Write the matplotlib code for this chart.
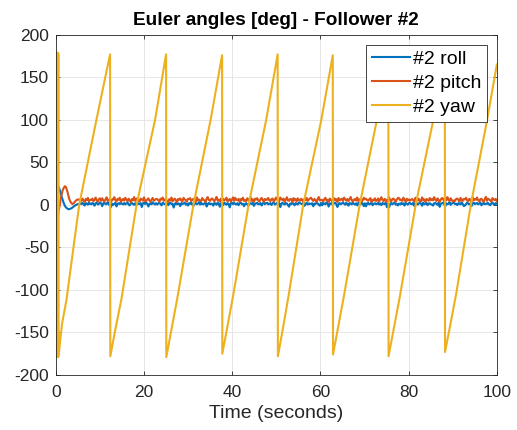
import numpy as np
import matplotlib
matplotlib.use('Agg')
import matplotlib.pyplot as plt

plt.rcParams['font.family'] = ['Liberation Sans', 'DejaVu Sans']
plt.rcParams['axes.unicode_minus'] = False

# attitude of follower #2 (deg), sampled evenly over 0.3 .. 100 s
roll = [23, 22, 19, 15, 10, 6, 2, -1, -3, -4, -5, -5, -4.5, -4, -3, -2, -1, 0, 0.5, 1, 1.2,
        1.8, 0.9, 2.4, 1.2, -0.8, 2.1, 1.5, 0.3, 2.8, 1.1,
        0.8, 2.3, 1.4, -0.9, 1.9, 2.6, 0.5, 1.2, 3.0, 1.7,
        -1.5, 1.9, 2.6, 0.7, 1.4, 3.1, 0.2, 1.6, -2.4, 1.3,
        0.2, 1.5, 2.4, -1.8, 1.1, 2.0, 0.9, 2.7, 1.3, 0.6,
        2.2, 0.6, 1.8, 2.9, 0.4, -0.6, 1.7, 2.3, 1.0, 0.1,
        1.9, -0.3, 2.5, 1.4, 0.8, 2.2, -2.5, 1.6, 2.9, 1.0,
        2.5, 1.4, -1.9, 1.2, 2.0, 0.8, 3.0, 1.5, 0.5, 2.1,
        0.4, 1.8, 2.3, 1.1, -0.6, 2.6, 1.5, 0.7, 1.9, 3.3,
        -0.4, 1.6, 2.7, 0.9, 1.3, -3.1, 1.1, 2.4, 0.6, 1.9,
        1.2, -1.4, 2.1, 0.9, 1.7, 2.8, 0.3, 1.4, -0.8, 2.0,
        1.2, 2.8, 0.3, -1.2, 1.7, 2.2, 0.8, 1.5, 3.2, 0.4,
        2.4, 1.0, 0.6, 1.8, 3.0, -1.9, 1.3, 2.2, 0.8, 1.6,
        1.0, -0.9, 2.3, 1.6, 0.2, 2.6, 1.3, -2.2, 1.9, 0.7,
        -0.4, 2.7, 1.5, 0.2, 2.1, 1.2, -2.9, 1.8, 2.5, 0.9,
        2.4, 1.1, 0.5, 2.0, -0.3, 1.8, 2.9, 0.9, 1.4, -1.6,
        1.4, 2.0, 0.5, -0.7, 2.3, 1.6, 1.0, 2.8, -1.2, 1.5,
        1.7, 2.5, 0.6, 1.2, 2.2, -0.7, 1.5, 3.0, 0.8, 1.9,
        2.6, 0.7, 1.3, 2.1, -0.1, 1.9, 3.1, 0.4, 1.2, 2.4,
        0.3, 2.1, -2.6, 1.4, 2.7, 1.0, 0.5, 2.3, 1.6, -0.2,
        -2.1, 1.7, 0.8, 2.5, 1.4, -0.5, 2.2, 1.1, 0.6, 2.9,
        2.0, 1.3, 0.9, 2.8, -1.1, 1.5, 2.4, 0.4, 1.8, 1.1,
        1.3, 2.0, -1.6, 1.5, 0.9, 2.6, 1.8, 0.2, -0.9, 2.3,
        -0.5, 2.6, 1.2, 0.7, 3.1, 1.6, -2.0, 1.9, 0.8, 2.2,
        1.0, 1.7, 2.8, 0.6, -2.4, 1.4, 2.1, 0.8, 1.6, 3.0,
        1.4, 0.2, 2.5, 1.0, -0.9, 2.1, 1.7, 0.6, 2.9, 1.3,
        0.3, 1.9, -0.6, 2.4, 1.2, 0.7, 2.7, 1.5, -1.5, 2.0,
        -1.7, 1.8, 2.3, 0.5, 1.5, 2.7, -0.4, 1.2, 2.0, 0.9,
        1.1, 2.5, 0.4, 1.8, -0.2, 2.2, 1.3, 0.9, 2.9, -2.7,
        1.6, -2.8, 1.1, 2.4, 0.7, 1.9, 3.0, 0.3, 1.4, -0.6,
        1.6, 0.5, 2.3, 1.0, 1.9, -0.8, 2.6, 1.4, 0.2, 2.1,
        2.2, 1.0, 0.8, 2.6, -1.3, 1.7, 2.1, 0.4, 1.5, 2.8,
        1.5, -1.0, 2.8, 0.7, 1.2, 2.4, -0.3, 1.7, 2.0, 0.6,
        0.6, -0.8, 1.9, 2.3, 1.2, 0.1, 2.7, -2.3, 1.3, 1.8,
        2.5, 1.3, -2.0, 1.9, 0.8, 1.4, 3.2, 0.1, 1.6, 2.2,
        2.5, 0.9, 1.4, -0.2, 2.0, 1.6, 0.5, 3.1, 1.1, -1.4,
        -0.7, 1.0, 2.6, 1.5, 0.4, 2.0, -1.3, 1.8, 2.7, 0.9,
        1.7, 2.2, 0.7, 1.5, 2.9, -0.5, 1.2, 2.4, 0.8, 1.6,
        1.2, 2.3, 0.5, -0.4, 1.7, 2.9, 1.1, 0.3, 2.1, 1.4]

pitch = [-15, -10, -3, 5, 12, 17, 20, 22, 21, 17, 12, 7, 4, 2, 1, 2, 3.5, 5, 6, 6.5, 6,
         6.2, 4.8, 7.5, 5.1, 3.6, 6.9, 5.4, 8.2, 4.3, 6.0,
         5.8, 7.4, 4.3, 6.1, 8.6, 5.0, 3.8, 6.9, 7.7, 4.9,
         7.8, 5.2, 3.9, 6.6, 8.9, 4.7, 5.8, 7.1, 3.2, 6.4,
         6.4, 9.1, 5.3, 4.0, 7.2, 6.0, 8.4, 3.5, 5.9, 7.0,
         5.0, 8.4, 6.1, 4.4, 7.3, 5.6, 2.9, 6.8, 5.3, 9.2,
         4.7, 6.6, 8.0, 5.2, 3.9, 7.5, 6.3, 5.1, 8.9, 4.4,
         4.6, 6.3, 7.7, 5.0, 3.8, 6.5, 8.1, 4.9, 5.7, 7.0,
         6.8, 5.4, 3.6, 7.3, 6.2, 8.7, 4.8, 5.7, 7.9, 3.3,
         3.5, 6.7, 5.2, 8.6, 4.1, 6.0, 7.4, 5.5, 3.3, 6.9,
         6.1, 7.6, 5.0, 4.2, 8.3, 6.5, 5.6, 3.7, 7.1, 6.9,
         8.0, 4.5, 5.9, 7.2, 6.1, 3.7, 8.8, 5.3, 6.4, 4.8,
         4.5, 8.1, 6.0, 5.3, 3.4, 7.4, 9.2, 5.8, 4.6, 6.7,
         7.6, 5.8, 4.2, 6.6, 9.4, 5.1, 6.2, 3.9, 7.3, 5.5,
         7.2, 5.1, 6.4, 8.5, 4.0, 5.9, 7.0, 3.8, 6.3, 8.8,
         4.7, 8.3, 6.0, 5.4, 7.1, 3.4, 6.8, 5.9, 8.5, 4.6,
         5.5, 4.3, 7.8, 6.1, 5.0, 9.0, 4.7, 6.6, 3.6, 7.3,
         6.3, 7.9, 5.0, 4.1, 6.7, 8.2, 5.6, 3.6, 7.0, 6.1,
         6.0, 8.2, 5.4, 4.4, 6.8, 7.5, 3.9, 5.7, 8.6, 6.2,
         5.3, 4.4, 8.7, 6.5, 5.8, 7.4, 3.8, 6.2, 9.0, 5.1,
         4.9, 7.1, 6.5, 3.5, 8.0, 5.2, 6.9, 4.1, 7.7, 5.8,
         4.9, 7.2, 6.0, 3.5, 6.9, 5.5, 8.1, 4.7, 6.3, 7.6,
         8.4, 6.3, 4.6, 7.0, 5.5, 3.7, 6.7, 9.3, 5.1, 6.0,
         5.7, 4.0, 6.6, 8.4, 5.2, 6.1, 3.7, 7.5, 5.9, 4.6,
         4.2, 7.8, 5.9, 6.6, 3.4, 8.1, 5.3, 6.2, 7.4, 4.8,
         8.6, 6.4, 5.0, 7.0, 4.3, 6.8, 9.3, 5.4, 3.9, 6.2,
         6.9, 5.0, 8.7, 4.5, 6.1, 7.2, 3.8, 5.6, 8.3, 6.4,
         7.3, 5.6, 4.8, 6.7, 8.0, 3.3, 6.0, 5.2, 7.8, 4.5,
         5.2, 7.6, 4.0, 6.8, 9.0, 5.7, 4.4, 7.1, 6.0, 3.6,
         6.5, 8.9, 5.1, 4.2, 6.9, 7.4, 5.8, 3.6, 6.3, 8.2,
         7.9, 5.5, 6.3, 4.7, 8.5, 6.0, 3.9, 7.3, 5.1, 6.6,
         4.9, 6.1, 7.0, 5.5, 3.8, 8.5, 6.6, 5.0, 7.2, 4.4,
         4.3, 8.8, 5.8, 6.4, 3.5, 7.0, 6.2, 4.9, 8.1, 5.4,
         6.8, 5.3, 9.1, 6.0, 4.6, 7.7, 5.7, 3.4, 6.4, 8.0,
         7.5, 4.1, 6.7, 5.3, 9.2, 6.0, 4.6, 7.8, 5.7, 3.8,
         5.2, 4.7, 6.9, 7.5, 5.9, 3.9, 8.3, 6.2, 4.8, 7.1,
         6.5, 8.3, 5.0, 4.5, 7.2, 6.1, 3.7, 8.9, 5.6, 6.8,
         6.0, 8.7, 5.4, 4.1, 6.6, 7.3, 5.0, 3.7, 6.8, 9.5,
         4.7, 7.4, 6.3, 5.2, 3.9, 8.0, 6.6, 5.5, 7.1, 4.4]

t_att = np.linspace(0.3, 100, len(roll))

# yaw wraps at +/-180 deg, logged at its corner points
yaw_t = [0.0, 0.07, 0.14, 0.21, 0.28, 0.35, 0.42, 0.49, 0.56,
         0.62, 1.4, 2.4, 5.3, 9.2, 12.3,
         12.35, 13.4, 14.9, 18.3, 22.5, 25.0,
         25.05, 26.1, 27.6, 31.2, 35.1, 37.7,
         37.75, 38.8, 40.3, 43.7, 47.7, 50.3,
         50.35, 51.4, 52.8, 56.1, 60.2, 62.8,
         62.85, 63.9, 65.4, 68.9, 72.8, 75.4,
         75.45, 76.5, 78.0, 81.6, 85.6, 88.2,
         88.25, 89.3, 90.8, 94.1, 97.8, 100.0]
yaw = [180, -178, 179, -179, 178, -178, 179, -179, 178,
       -178, -140, -112, 0, 100, 177,
       -178, -149, -110, 0, 100, 177,
       -179, -150, -108, 0, 100, 176,
       -175, -146, -104, 0, 100, 177,
       -178, -148, -106, 0, 100, 176,
       -176, -147, -105, 0, 100, 177,
       -178, -149, -108, 0, 100, 176,
       -173, -145, -104, 0, 100, 165]

fig = plt.figure(figsize=(5.17, 4.30), dpi=100)
ax = fig.add_axes([0.108, 0.128, 0.853, 0.791])

ax.plot(t_att, roll, color='#0072BD', lw=1.5, label='#2 roll')
ax.plot(t_att, pitch, color='#D95319', lw=1.5, label='#2 pitch')
ax.plot(yaw_t, yaw, color='#EDB120', lw=1.5, label='#2 yaw')

ax.set_xlim(0, 100)
ax.set_ylim(-200, 200)
ax.set_xticks(np.arange(0, 101, 20))
ax.set_yticks(np.arange(-200, 201, 50))
ax.grid(True, color='#e3e3e3', lw=0.6)
ax.set_axisbelow(True)

for s in ax.spines.values():
    s.set_color('#262626')
    s.set_linewidth(0.6)
ax.tick_params(direction='in', top=True, right=True, length=3,
               width=0.6, color='#262626', labelsize=12.5,
               labelcolor='#262626')
ax.tick_params(axis='x', pad=7)
ax.tick_params(axis='y', pad=5)

ax.set_title('Euler angles [deg] - Follower #2', fontsize=13.7,
             fontweight='bold', color='black', pad=7)
ax.set_xlabel('Time (seconds)', fontsize=14, color='#262626', labelpad=4)

leg = ax.legend(loc='upper right', fontsize=14, fancybox=False,
                framealpha=1, edgecolor='#262626', handlelength=1.95,
                borderaxespad=0.5, labelspacing=0.33, handletextpad=0.15,
                borderpad=0.3)
leg.get_frame().set_linewidth(0.6)

fig.savefig('out.png', dpi=100)
